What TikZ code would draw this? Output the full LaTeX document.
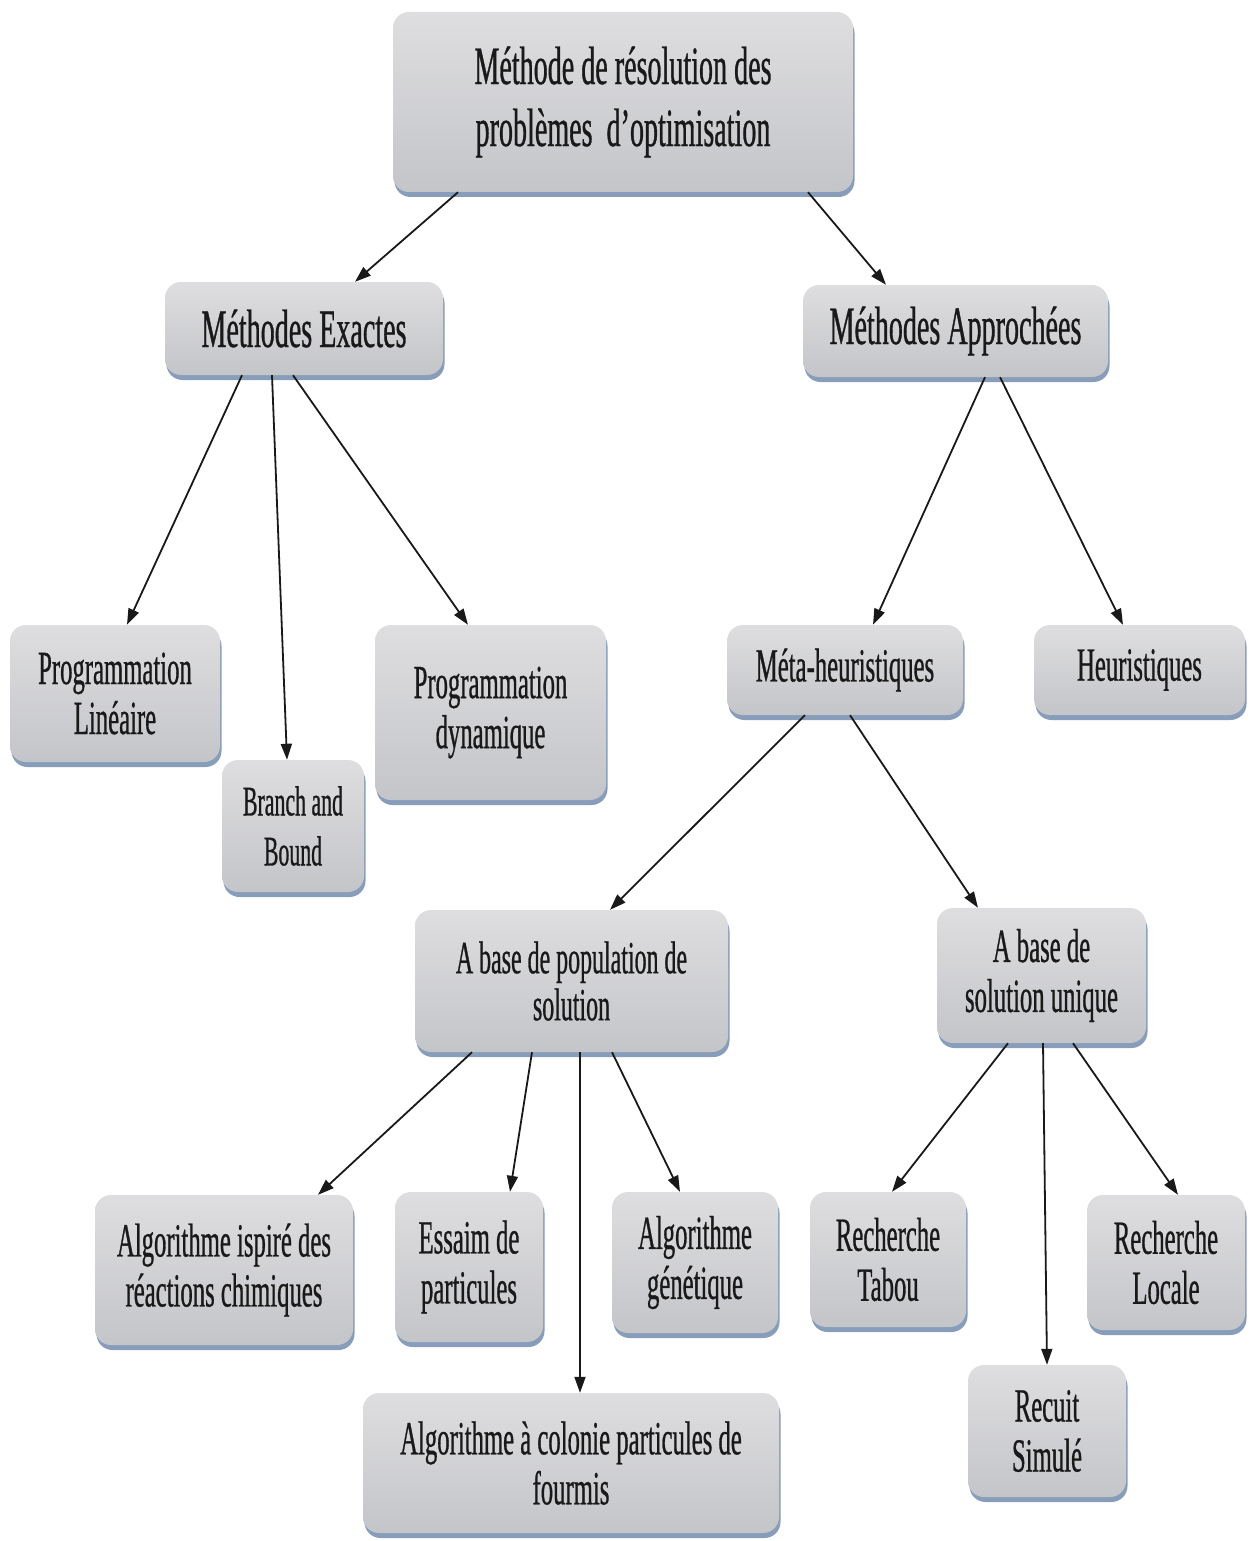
\documentclass[tikz,border=0pt]{standalone}
\usepackage{fontspec}
\setmainfont{Liberation Serif}[FakeStretch=0.52, FakeBold=0.6]
\usetikzlibrary{arrows.meta}

\definecolor{boxtop}{RGB}{222,222,224}
\definecolor{boxbot}{RGB}{196,197,201}
\definecolor{boxrim}{RGB}{136,157,186}

\tikzset{
  box/.style={
    rounded corners=16pt, inner sep=0pt, align=center,
    top color=boxtop, bottom color=boxbot,
    preaction={fill=boxrim, transform canvas={shift={(1.5pt,-5pt)}}},
    font=\fontsize{47.5}{50}\selectfont, text=black!90
  },
  bigbox/.style={box, font=\fontsize{54}{62}\selectfont},
  smallbox/.style={box, font=\fontsize{42}{50}\selectfont},
  arr/.style={line width=1.8pt, -{Triangle[length=16pt,width=11pt]}, black!90}
}

\begin{document}
\begin{tikzpicture}[x=1pt, y=-1pt]
\useasboundingbox (0,0) rectangle (1249,1541);

% level 0
\node[bigbox, minimum width=460pt, minimum height=180pt] (root) at (623,102)
  {Méthode de résolution des\\problèmes~ d’optimisation};

% level 1
\node[bigbox, minimum width=278pt, minimum height=93pt] (exact) at (304,328.5) {Méthodes Exactes};
\node[bigbox, minimum width=305pt, minimum height=92pt] (appr) at (955.5,331) {Méthodes Approchées};

% exact methods
\node[box, minimum width=210pt, minimum height=137pt] (plin) at (115,693.5) {Programmation\\Linéaire};
\node[smallbox, minimum width=142pt, minimum height=132pt] (bnb) at (293,826) {Branch and\\Bound};
\node[box, minimum width=231pt, minimum height=175pt] (pdyn) at (490.5,712.5) {Programmation\\dynamique};

% approximate methods
\node[box, minimum width=236pt, minimum height=90pt] (meta) at (845,670) {Méta-heuristiques};
\node[box, minimum width=211pt, minimum height=90pt] (heur) at (1139.5,670) {Heuristiques};

% metaheuristic families
\node[box, minimum width=313pt, minimum height=142pt, font=\fontsize{46}{47}\selectfont] (pop) at (571.5,981)
  {A base de population de\\solution};
\node[box, minimum width=209pt, minimum height=135pt] (uniq) at (1041.5,975.5) {A base de\\solution unique};

% population based
\node[box, minimum width=258pt, minimum height=150pt] (chem) at (224,1270)
  {Algorithme ispiré des\\réactions chimiques};
\node[box, minimum width=148pt, minimum height=150pt] (essaim) at (469,1267) {Essaim de\\particules};
\node[box, minimum width=166pt, minimum height=141pt] (genet) at (695,1262.5) {Algorithme\\génétique};
\node[box, minimum width=416pt, minimum height=140pt] (fourmis) at (571,1463)
  {Algorithme à colonie particules de\\fourmis};

% single solution based
\node[box, minimum width=156pt, minimum height=135pt] (tabou) at (888,1259.5) {Recherche\\Tabou};
\node[box, minimum width=158pt, minimum height=132pt] (recuit) at (1047,1431) {Recuit\\Simulé};
\node[box, minimum width=158pt, minimum height=135pt] (locale) at (1166,1262.5) {Recherche\\Locale};

% connectors
\draw[arr] ([xshift=-165pt]root.south) -- ([xshift=51pt]exact.north);
\draw[arr] ([xshift=185pt]root.south) -- ([xshift=-69.5pt]appr.north);

\draw[arr] ([xshift=-62pt]exact.south) -- ([xshift=12pt]plin.north);
\draw[arr] ([xshift=-32pt]exact.south) -- ([xshift=-6pt]bnb.north);
\draw[arr] ([xshift=-11pt]exact.south) -- ([xshift=-22.5pt]pdyn.north);

\draw[arr] ([xshift=29.5pt]appr.south) -- ([xshift=28pt]meta.north);
\draw[arr] ([xshift=44.5pt]appr.south) -- ([xshift=-16.5pt]heur.north);

\draw[arr] ([xshift=-40pt]meta.south) -- ([xshift=38.5pt]pop.north);
\draw[arr] ([xshift=5pt]meta.south) -- ([xshift=-63.5pt]uniq.north);

\draw[arr] ([xshift=-99.5pt]pop.south) -- ([xshift=94pt]chem.north);
\draw[arr] ([xshift=-39.5pt]pop.south) -- ([xshift=41pt]essaim.north);
\draw[arr] ([xshift=8.5pt]pop.south) -- ([xshift=9pt]fourmis.north);
\draw[arr] ([xshift=40.5pt]pop.south) -- ([xshift=-15pt]genet.north);

\draw[arr] ([xshift=-33.5pt]uniq.south) -- ([xshift=4pt]tabou.north);
\draw[arr] ([xshift=1.5pt]uniq.south) -- ([xshift=0pt]recuit.north);
\draw[arr] ([xshift=31.5pt]uniq.south) -- ([xshift=12pt]locale.north);
\end{tikzpicture}
\end{document}
